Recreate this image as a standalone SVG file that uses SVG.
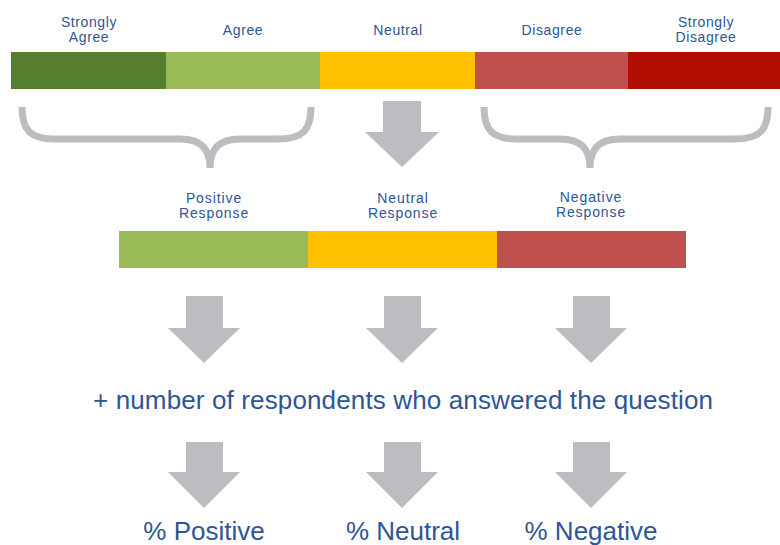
<svg xmlns="http://www.w3.org/2000/svg" width="780" height="545" viewBox="0 0 780 545">
<style>
.lbl{font-family:"Liberation Sans",Arial,sans-serif;fill:#2E5597;text-anchor:middle}
.s{font-size:14px;letter-spacing:0.6px}
.r{font-size:14px;letter-spacing:0.9px}
.m{font-size:26px;text-anchor:start}
.b{font-size:26px}
.arrow{fill:#BCBDC0}
.brace{fill:none;stroke:#BCBDC0;stroke-width:7;stroke-linecap:butt}
</style>
<rect width="780" height="545" fill="#fff"/>
<g id="scale5">
<rect x="11" y="52" width="155" height="37" fill="#567E2F"/>
<rect x="166" y="52" width="154" height="37" fill="#9BBB59"/>
<rect x="320" y="52" width="155" height="37" fill="#FFC000"/>
<rect x="475" y="52" width="153" height="37" fill="#C0504D"/>
<rect x="628" y="52" width="152" height="37" fill="#B00F00"/>
<text class="lbl s" x="89" y="27">Strongly</text>
<text class="lbl s" x="89" y="42">Agree</text>
<text class="lbl s" x="243" y="35">Agree</text>
<text class="lbl s" x="398" y="35">Neutral</text>
<text class="lbl s" x="552" y="35">Disagree</text>
<text class="lbl s" x="706" y="27">Strongly</text>
<text class="lbl s" x="706" y="42">Disagree</text>
</g>
<g id="scale3">
<rect x="119" y="231" width="189" height="37" fill="#9BBB59"/>
<rect x="308" y="231" width="189" height="37" fill="#FFC000"/>
<rect x="497" y="231" width="189" height="37" fill="#C0504D"/>
<text class="lbl r" x="214" y="203">Positive</text>
<text class="lbl r" x="214" y="218">Response</text>
<text class="lbl r" x="403" y="203">Neutral</text>
<text class="lbl r" x="403" y="218">Response</text>
<text class="lbl r" x="591" y="202">Negative</text>
<text class="lbl r" x="591" y="217">Response</text>
</g>
<g id="formula">
<text class="lbl m" x="93" y="409" textLength="620" lengthAdjust="spacing">+ number of respondents who answered the question</text>
</g>
<g id="results">
<text class="lbl b" x="204" y="540">% Positive</text>
<text class="lbl b" x="403" y="540">% Neutral</text>
<text class="lbl b" x="591" y="540">% Negative</text>
</g>
<g id="connectors">
<path class="brace" d="M22,107 C22,130 30,139 55,139 L180,139 C200,139 210,148 210,168 M311,107 C311,130 303,139 278,139 L240,139 C220,139 210,148 210,168"/>
<path class="brace" d="M484,107 C484,130 492,139 517,139 L560,139 C580,139 590,148 590,168 M768,107 C768,130 760,139 735,139 L620,139 C600,139 590,148 590,168"/>
<path class="arrow" d="M383,101 H421 V132 H439 L402,167 L365,132 H383 Z"/>
<path class="arrow" d="M186,296 H223 V328 H240 L204,363 L168,328 H186 Z"/>
<path class="arrow" d="M384,296 H421 V328 H438 L402,363 L366,328 H384 Z"/>
<path class="arrow" d="M573,296 H610 V328 H627 L591,363 L555,328 H573 Z"/>
<path class="arrow" d="M186,442 H223 V472 H240 L204,508 L168,472 H186 Z"/>
<path class="arrow" d="M384,442 H421 V472 H438 L402,508 L366,472 H384 Z"/>
<path class="arrow" d="M573,442 H610 V472 H627 L591,508 L555,472 H573 Z"/>
</g>
</svg>
